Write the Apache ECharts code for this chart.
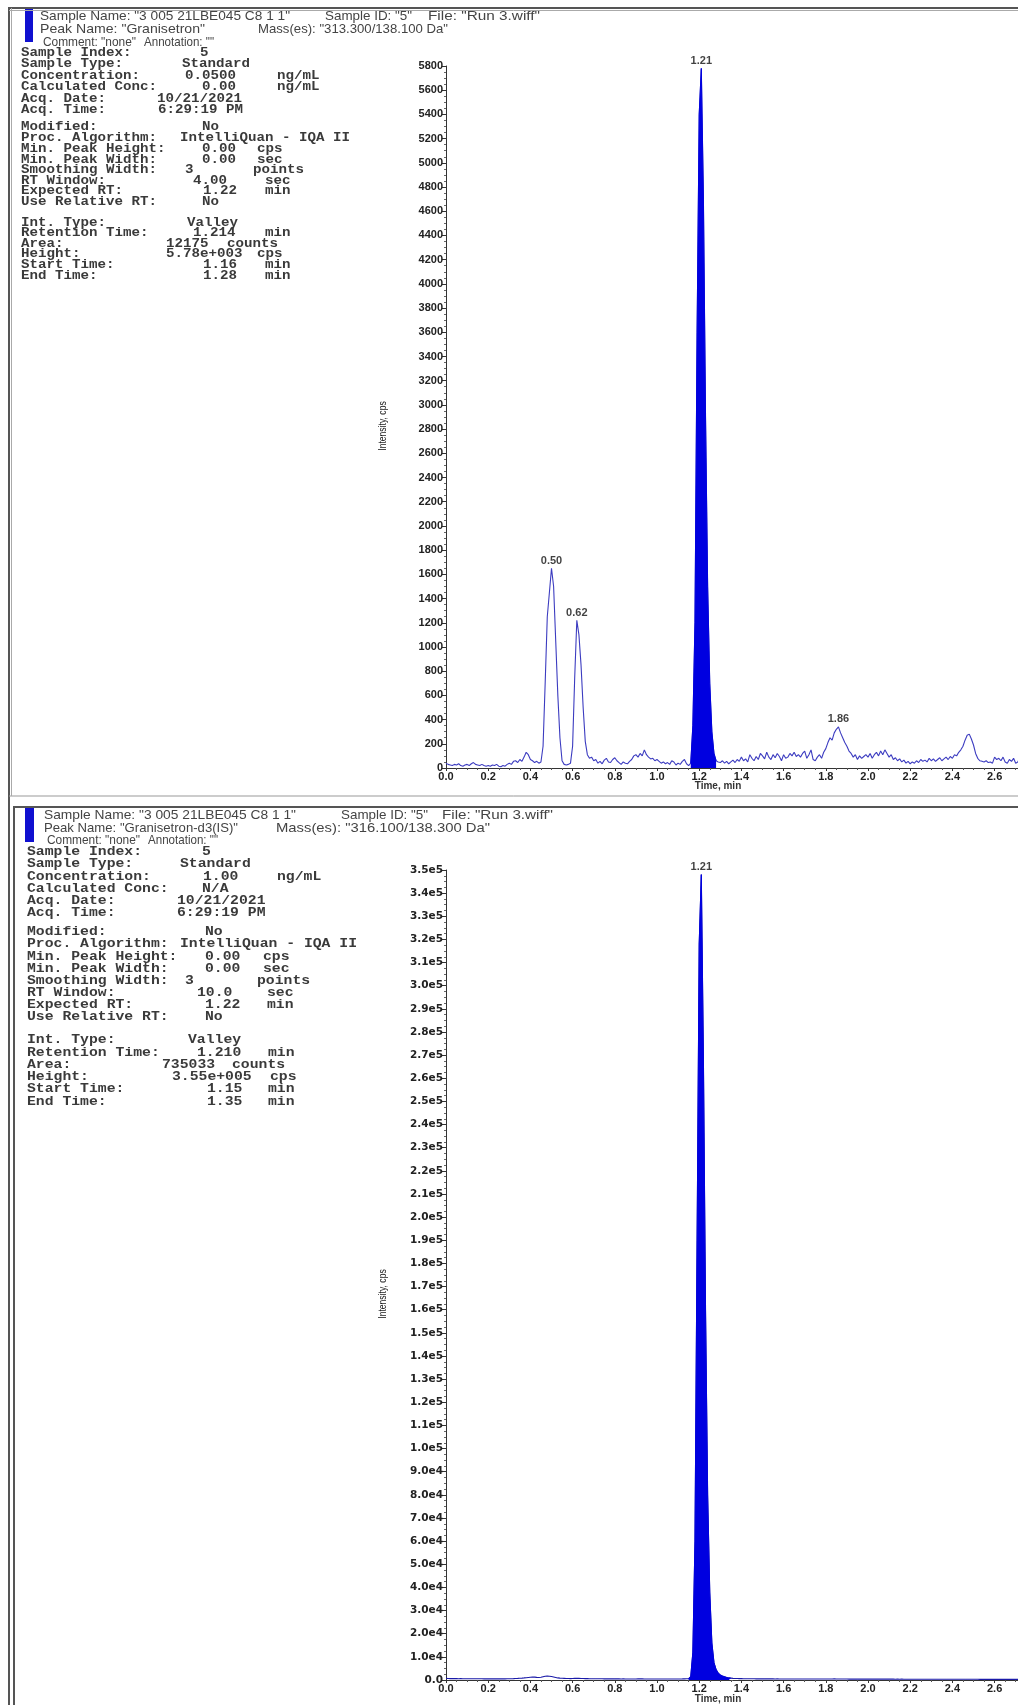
<!DOCTYPE html>
<html>
<head>
<meta charset="utf-8">
<title>Granisetron / Granisetron-d3 XIC</title>
<script src="https://cdn.jsdelivr.net/npm/echarts@6/dist/echarts.min.js"></script>
<style>
  html, body { margin: 0; padding: 0; background: #fff; }
  #chart { width: 1018px; height: 1705px; }
</style>
</head>
<body>
<div id="chart"></div>
<script>
// sampling grid of both traces (min)
const timeStart = 0.0;
const timeStep = 0.01;
const timeTicks = { min: 0, max: 3.0, interval: 0.2 };

// Granisetron 313.3/138.1, cps, one value per 0.01 min from 0.00 to 2.76
const analyteIntensity = [
  40, 30, 25, 20, 30, 25, 35, 20, 15, 25,
  30, 20, 35, 45, 30, 25, 20, 30, 20, 15,
  20, 15, 25, 20, 30, 15, 10, 20, 15, 30,
  40, 30, 55, 60, 45, 70, 55, 90, 130, 110,
  70, 60, 45, 55, 40, 50, 180, 700, 1250, 1450,
  1650, 1500, 1050, 600, 250, 60, 30, 25, 30, 40,
  180, 750, 1220, 1100, 850, 500, 220, 110, 80, 90,
  60, 70, 40, 55, 35, 65, 80, 50, 45, 70,
  85, 60, 45, 30, 50, 40, 35, 55, 70, 100,
  110, 90, 120, 100, 150, 110, 90, 75, 80, 60,
  70, 55, 40, 50, 35, 45, 30, 60, 50, 25,
  40, 30, 55, 70, 35, 20, 40, 350, 1200, 3600,
  5400, 5780, 4700, 2900, 1500, 700, 300, 120, 60, 50,
  45, 60, 40, 55, 35, 50, 65, 45, 70, 55,
  90, 60, 75, 50, 110, 80, 60, 95, 70, 120,
  100, 75, 130, 90, 70, 110, 85, 120, 95, 60,
  110, 80, 90, 120, 100, 130, 95, 110, 90, 120,
  140, 80, 110, 150, 70, 60, 90, 110, 80, 130,
  160, 210, 250, 230, 290, 320, 340, 290, 250, 210,
  180, 140, 120, 90, 110, 70, 100, 80, 95, 110,
  90, 120, 80, 110, 130, 100, 140, 110, 150, 120,
  90, 110, 70, 85, 60, 75, 50, 65, 40, 55,
  35, 50, 40, 60, 45, 70, 55, 65, 50, 80,
  60, 75, 55, 70, 85, 60, 75, 90, 70, 95,
  80, 110, 100, 130, 150, 180, 230, 270, 280, 240,
  190, 120, 80, 60, 55, 50, 60, 45, 50, 40,
  90, 70, 80, 60, 90, 50, 40, 70, 55, 80,
  40, 50, 90, 60, 80, 50, 70
];
const analyteIntegration = [1.16, 1.28];
const analytePeaks = [0.50, 0.62, 1.21, 1.86];
const analyteY = { min: 0, max: 5800, interval: 200 };

// Granisetron-d3 (IS) 316.1/138.3, cps
const isIntensity = [
  700, 650, 600, 620, 580, 600, 560, 590, 550, 570,
  540, 560, 530, 550, 520, 540, 510, 530, 500, 520,
  500, 490, 510, 480, 500, 470, 490, 480, 500, 520,
  540, 560, 600, 650, 700, 760, 820, 900, 1000, 1100,
  1200, 1300, 1250, 1150, 1100, 1200, 1400, 1600, 1700, 1650,
  1500, 1300, 1100, 900, 800, 750, 700, 650, 620, 600,
  620, 700, 760, 720, 680, 640, 600, 580, 560, 550,
  540, 530, 520, 510, 520, 500, 490, 500, 480, 490,
  480, 470, 480, 460, 470, 450, 460, 450, 440, 450,
  460, 470, 480, 470, 460, 450, 440, 430, 440, 430,
  420, 430, 420, 410, 420, 410, 400, 410, 420, 430,
  440, 450, 470, 500, 550, 600, 1500, 12000, 60000, 190000,
  318000, 348000, 268000, 160000, 80000, 38000, 16000, 7500, 4500, 3000,
  2200, 1700, 1400, 1100, 900, 800, 700, 650, 620, 600,
  580, 560, 550, 540, 530, 520, 510, 500, 500, 490,
  490, 480, 480, 470, 480, 470, 460, 470, 460, 450,
  460, 450, 450, 440, 450, 440, 440, 430, 440, 430,
  430, 420, 430, 420, 420, 410, 420, 410, 410, 400,
  410, 420, 440, 460, 470, 460, 440, 420, 410, 400,
  400, 390, 400, 390, 400, 390, 380, 390, 380, 390,
  380, 390, 380, 370, 380, 370, 380, 370, 360, 370,
  360, 370, 360, 350, 360, 350, 360, 350, 340, 350,
  340, 350, 340, 330, 340, 330, 340, 330, 320, 330,
  320, 330, 320, 310, 320, 310, 320, 310, 300, 310,
  300, 310, 320, 330, 340, 350, 340, 330, 320, 310,
  300, 310, 300, 290, 300, 290, 300, 290, 280, 290,
  280, 290, 280, 270, 280, 270, 280, 270, 260, 270,
  260, 270, 260, 250, 260, 250, 260
];
const isIntegration = [1.15, 1.35];
const isPeaks = [1.21];
const isY = { min: 0, max: 350000, interval: 10000 };

// text of the two result panes
const header1 = [
  ['Sample Name: "3 005 21LBE045 C8 1 1"', 'Sample ID: "5"', 'File: "Run 3.wiff"'],
  ['Peak Name: "Granisetron"', 'Mass(es): "313.300/138.100 Da"'],
  ['Comment: "none"', 'Annotation: ""']
];
const header2 = [
  ['Sample Name: "3 005 21LBE045 C8 1 1"', 'Sample ID: "5"', 'File: "Run 3.wiff"'],
  ['Peak Name: "Granisetron-d3(IS)"', 'Mass(es): "316.100/138.300 Da"'],
  ['Comment: "none"', 'Annotation: ""']
];
const params1 = [
  ['Sample Index:', '5', ''],
  ['Sample Type:', 'Standard', ''],
  ['Concentration:', '0.0500', 'ng/mL'],
  ['Calculated Conc:', '0.00', 'ng/mL'],
  ['Acq. Date:', '10/21/2021', ''],
  ['Acq. Time:', '6:29:19 PM', ''],
  ['Modified:', 'No', ''],
  ['Proc. Algorithm:', 'IntelliQuan - IQA II', ''],
  ['Min. Peak Height:', '0.00', 'cps'],
  ['Min. Peak Width:', '0.00', 'sec'],
  ['Smoothing Width:', '3', 'points'],
  ['RT Window:', '4.00', 'sec'],
  ['Expected RT:', '1.22', 'min'],
  ['Use Relative RT:', 'No', ''],
  ['Int. Type:', 'Valley', ''],
  ['Retention Time:', '1.214', 'min'],
  ['Area:', '12175', 'counts'],
  ['Height:', '5.78e+003', 'cps'],
  ['Start Time:', '1.16', 'min'],
  ['End Time:', '1.28', 'min']
];
const params2 = [
  ['Sample Index:', '5', ''],
  ['Sample Type:', 'Standard', ''],
  ['Concentration:', '1.00', 'ng/mL'],
  ['Calculated Conc:', 'N/A', ''],
  ['Acq. Date:', '10/21/2021', ''],
  ['Acq. Time:', '6:29:19 PM', ''],
  ['Modified:', 'No', ''],
  ['Proc. Algorithm:', 'IntelliQuan - IQA II', ''],
  ['Min. Peak Height:', '0.00', 'cps'],
  ['Min. Peak Width:', '0.00', 'sec'],
  ['Smoothing Width:', '3', 'points'],
  ['RT Window:', '10.0', 'sec'],
  ['Expected RT:', '1.22', 'min'],
  ['Use Relative RT:', 'No', ''],
  ['Int. Type:', 'Valley', ''],
  ['Retention Time:', '1.210', 'min'],
  ['Area:', '735033', 'counts'],
  ['Height:', '3.55e+005', 'cps'],
  ['Start Time:', '1.15', 'min'],
  ['End Time:', '1.35', 'min']
];

// ---- layout (pixels) ----
// header segments are given as [left, right] spans and squeezed to fit
const pane1 = {
  frame: [9, 8], blue: [25, 9, 8, 33],
  headSpan: [[[40, 290], [325, 412], [428, 540]], [[40, 205], [258, 448]], [[43, 136], [144, 214]]],
  headY: [16, 29, 42], headFont: 13.5,
  labelX: 21,
  rowY: [53, 64, 76, 87, 99, 110, 127, 138, 149, 160, 170, 181, 191, 202, 223, 233, 244, 254, 265, 276],
  valX: [200, 182, 185, 202, 157, 158, 202, 180, 202, 202, 185, 193, 203, 202, 187, 193, 166, 166, 203, 203],
  unitX: [0, 0, 277, 277, 0, 0, 0, 0, 257, 257, 253, 265, 265, 0, 0, 265, 227, 257, 265, 265],
  monoFont: 12, monoScale: 1.18,
  grid: { left: 446, top: 66, height: 702 },
  yLabel: { fontSize: 11, fontFamily: '"Liberation Sans", Arial, sans-serif' },
  yTitle: [383, 426], xTitle: [718, 786]
};
const pane2 = {
  frame: [14, 807], blue: [25, 808, 9, 34],
  headSpan: [[[44, 296], [341, 428], [442, 553]], [[44, 238], [276, 490]], [[47, 140], [148, 218]]],
  headY: [815, 828, 840], headFont: 13.5,
  labelX: 27,
  rowY: [852, 864, 877, 889, 901, 913, 932, 944, 957, 969, 981, 993, 1005, 1017, 1040, 1053, 1065, 1077, 1089, 1102],
  valX: [202, 180, 203, 202, 177, 177, 205, 180, 205, 205, 185, 197, 205, 205, 188, 197, 162, 172, 207, 207],
  unitX: [0, 0, 277, 0, 0, 0, 0, 0, 263, 263, 257, 267, 267, 0, 0, 268, 232, 270, 268, 268],
  monoFont: 12.5, monoScale: 1.18,
  grid: { left: 446, top: 870, height: 810 },
  yLabel: { fontSize: 10.5, fontFamily: '"DejaVu Sans", Verdana, sans-serif' },
  yTitle: [383, 1294], xTitle: [718, 1699]
};
const pxPerMin = 211;

const toPairs = vals => vals.map((v, i) => [+(timeStart + i * timeStep).toFixed(2), v]);
const within = r => p => p[0] >= r[0] - 1e-9 && p[0] <= r[1] + 1e-9;
const valueAt = (vals, t) => vals[Math.round((t - timeStart) / timeStep)];

const analytePairs = toPairs(analyteIntensity);
const isPairs = toPairs(isIntensity);

const sans = '"Liberation Sans", Arial, sans-serif';
const mono = '"Liberation Mono", "Courier New", monospace';

const measureCtx = document.createElement('canvas').getContext('2d');
function textWidth(txt, font) {
  measureCtx.font = font;
  return measureCtx.measureText(txt).width;
}

function paneGraphics(p, header, params) {
  const els = [];
  els.push({ type: 'rect', shape: { x: p.frame[0], y: p.frame[1], width: 1200, height: 2000 },
    style: { fill: null, stroke: '#555', lineWidth: 2 }, silent: true });
  els.push({ type: 'rect', shape: { x: p.blue[0], y: p.blue[1], width: p.blue[2], height: p.blue[3] },
    style: { fill: '#1010d0' }, silent: true });
  const headFont = p.headFont + 'px ' + sans;
  header.forEach((line, li) => line.forEach((txt, si) => {
    const span = p.headSpan[li][si];
    const sx = (span[1] - span[0]) / textWidth(txt, headFont);
    els.push({ type: 'text', x: span[0], y: p.headY[li], scaleX: sx,
      style: { text: txt, font: headFont, fill: '#444',
        textAlign: 'left', textVerticalAlign: 'middle', verticalAlign: 'middle' } });
  }));
  params.forEach((row, ri) => {
    const y = p.rowY[ri];
    const parts = [[p.labelX, row[0]], [p.valX[ri], row[1]], [p.unitX[ri], row[2]]];
    parts.forEach(([x, txt]) => {
      if (!txt) return;
      els.push({ type: 'text', x: x, y: y, scaleX: p.monoScale,
        style: { text: txt, font: 'bold ' + p.monoFont + 'px ' + mono, fill: '#3a3a3a',
          textAlign: 'left', textVerticalAlign: 'middle', verticalAlign: 'middle' } });
    });
  });
  els.push({ type: 'text', x: p.yTitle[0], y: p.yTitle[1], rotation: Math.PI / 2, scaleX: 0.78,
    style: { text: 'Intensity, cps', font: '11px ' + sans, fill: '#1a1a1a',
      textAlign: 'center', textVerticalAlign: 'middle', verticalAlign: 'middle' } });
  els.push({ type: 'text', x: p.xTitle[0], y: p.xTitle[1],
    style: { text: 'Time, min', font: 'bold 10px ' + sans, fill: '#333',
      textAlign: 'center', textVerticalAlign: 'middle', verticalAlign: 'middle' } });
  return els;
}

const graphics = [].concat(
  paneGraphics(pane1, header1, params1),
  paneGraphics(pane2, header2, params2),
  [
    { type: 'line', shape: { x1: 9, y1: 796, x2: 1018, y2: 796 }, style: { stroke: '#999', lineWidth: 1 } },
    { type: 'line', shape: { x1: 9, y1: 10.5, x2: 1018, y2: 10.5 }, style: { stroke: '#aaa', lineWidth: 1 } },
    { type: 'line', shape: { x1: 11.5, y1: 8, x2: 11.5, y2: 796 }, style: { stroke: '#aaa', lineWidth: 1 } }
  ]
);

function xAxisFor(gi) {
  return {
    type: 'value', gridIndex: gi, min: timeTicks.min, max: timeTicks.max, interval: timeTicks.interval,
    axisLine: { lineStyle: { color: '#333', width: 1 } },
    axisTick: { show: true, length: 3, lineStyle: { color: '#333' } },
    minorTick: { show: true, splitNumber: 4, length: 2, lineStyle: { color: '#555' } },
    splitLine: { show: false },
    axisLabel: { margin: 3, color: '#222', fontSize: 11, fontWeight: 'bold', fontFamily: sans,
      formatter: v => v.toFixed(1) }
  };
}
function yAxisFor(gi, ax, fmt, lab) {
  return {
    type: 'value', gridIndex: gi, min: ax.min, max: ax.max, interval: ax.interval,
    axisLine: { show: true, lineStyle: { color: '#333', width: 1 } },
    axisTick: { show: true, length: 4, lineStyle: { color: '#333' } },
    minorTick: { show: true, splitNumber: 4, length: 2, lineStyle: { color: '#666' } },
    splitLine: { show: false },
    axisLabel: { margin: 3, color: '#222', fontSize: lab.fontSize, fontWeight: 'bold',
      fontFamily: lab.fontFamily, formatter: fmt }
  };
}
const isFmt = v => v === 0 ? '0.0' : (v >= 1e5 ? (v / 1e5).toFixed(1) + 'e5' : (v / 1e4).toFixed(1) + 'e4');

function traceSeries(gi, pairs, lineColor) {
  return { type: 'line', xAxisIndex: gi, yAxisIndex: gi, data: pairs, showSymbol: false,
    lineStyle: { color: lineColor, width: 1.1 }, z: 2, silent: true };
}
function peakSeries(gi, pairs, range) {
  return { type: 'line', xAxisIndex: gi, yAxisIndex: gi, data: pairs.filter(within(range)), showSymbol: false,
    lineStyle: { color: '#0000e0', width: 1 }, areaStyle: { color: '#0000e0', opacity: 1 }, z: 3, silent: true };
}
function labelSeries(gi, vals, peaks) {
  return { type: 'scatter', xAxisIndex: gi, yAxisIndex: gi, symbolSize: 2,
    itemStyle: { color: 'rgba(0,0,0,0)' },
    data: peaks.map(t => [t, valueAt(vals, t)]), z: 5, silent: true,
    label: { show: true, position: 'top', distance: 1, color: '#111', fontSize: 11, fontWeight: 'bold',
      fontFamily: sans, formatter: p => p.value[0].toFixed(2) } };
}

const gridBase = { containLabel: false, outerBoundsMode: 'none', width: pxPerMin * timeTicks.max };
const chart = echarts.init(document.getElementById('chart'));
chart.setOption({
  animation: false,
  backgroundColor: '#fff',
  grid: [
    Object.assign({ left: pane1.grid.left, top: pane1.grid.top, height: pane1.grid.height }, gridBase),
    Object.assign({ left: pane2.grid.left, top: pane2.grid.top, height: pane2.grid.height }, gridBase)
  ],
  xAxis: [xAxisFor(0), xAxisFor(1)],
  yAxis: [yAxisFor(0, analyteY, v => String(v), pane1.yLabel), yAxisFor(1, isY, isFmt, pane2.yLabel)],
  series: [
    traceSeries(0, analytePairs, '#3c3cc0'),
    peakSeries(0, analytePairs, analyteIntegration),
    labelSeries(0, analyteIntensity, analytePeaks),
    traceSeries(1, isPairs, '#1a1aa8'),
    peakSeries(1, isPairs, isIntegration),
    labelSeries(1, isIntensity, isPeaks)
  ],
  graphic: graphics
});
</script>
</body>
</html>
